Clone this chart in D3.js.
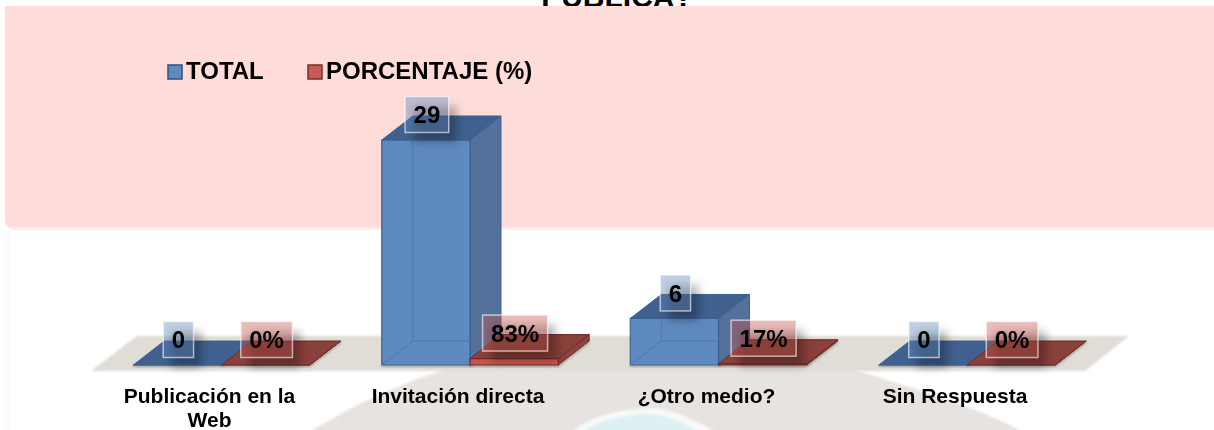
<!DOCTYPE html>
<html>
<head>
<meta charset="utf-8">
<script src="https://cdn.jsdelivr.net/npm/d3@7/dist/d3.min.js"></script>
<style>
  html, body { margin: 0; padding: 0; background: #fff; overflow: hidden; }
  text { font-family: "Liberation Sans", Arial, sans-serif; font-weight: bold; fill: #000; }
</style>
</head>
<body>
<div id="chart"></div>
<script>
var categories = ["Publicación en la Web", "Invitación directa", "¿Otro medio?", "Sin Respuesta"];
var seriesNames = ["TOTAL", "PORCENTAJE (%)"];
var total = [0, 29, 6, 0];
var porcentaje = [0, 0.83, 0.17, 0];
var totalLabels = ["0", "29", "6", "0"];
var porcentajeLabels = ["0%", "83%", "17%", "0%"];

var width = 1214, height = 430;
var depthX = 31, depthY = 24;

var colors = [
  { front: "#5f8abf", top: "#3f6090", side: "#54719b", edge: "#3a6296", inner: "#4a77af", box: "#5f8abf", swatch: "#5f8abf", swatchEdge: "#2f4f7c" },
  { front: "#c9544f", top: "#8a3f3a", side: "#8c423d", edge: "#6e2b28", inner: "#a8443f", box: "#c9544f", swatch: "#c85a56", swatchEdge: "#7a2e2b" }
];

var svg = d3.select("#chart").append("svg")
  .attr("width", width)
  .attr("height", height)
  .style("display", "block");

var defs = svg.append("defs");
defs.append("filter").attr("id", "soft").attr("x", "-50%").attr("y", "-50%").attr("width", "200%").attr("height", "200%")
  .append("feGaussianBlur").attr("stdDeviation", 4);
defs.append("filter").attr("id", "edge").attr("x", "-5%").attr("y", "-5%").attr("width", "110%").attr("height", "110%")
  .append("feGaussianBlur").attr("stdDeviation", 1);
defs.append("filter").attr("id", "tiny").attr("x", "-5%").attr("y", "-20%").attr("width", "110%").attr("height", "140%")
  .append("feGaussianBlur").attr("stdDeviation", 0.4);

// title, cut off by the top of the window and the pink band
svg.append("text")
  .attr("x", 617)
  .attr("y", 6.5)
  .attr("text-anchor", "middle")
  .style("font-size", "30px")
  .text("PUBLICA?");

// faded watermark behind the lower part
var mark = svg.append("g");
mark.append("rect").attr("x", 5).attr("y", 228).attr("width", 5).attr("height", 202).attr("fill", "#fbfbfb").attr("filter", "url(#edge)");
mark.append("path").attr("d", "M310,432 C345,410 395,385 450,368 L850,368 C900,385 975,405 1023,432 Z").attr("fill", "#e6e3e0").attr("filter", "url(#edge)");
mark.append("path").attr("d", "M572,432 C590,415 625,408 655,408 C675,410 695,420 716,432 Z").attr("fill", "#f8f8f8").attr("filter", "url(#edge)");
mark.append("path").attr("d", "M582,432 C598,420 625,414 652,414 C670,416 685,424 700,432 Z").attr("fill", "#def1f2").attr("filter", "url(#edge)");

// pink band
svg.append("path")
  .attr("d", "M5,6 H1240 V230 H14 Q7,229 5,222 Z")
  .attr("fill", "#fedcda");
svg.append("rect")
  .attr("x", 5).attr("y", 227).attr("width", 1214).attr("height", 3)
  .attr("fill", "#fff").attr("fill-opacity", 0.4);

// scales
var x0 = d3.scaleBand().domain(categories).range([97.25, 1091.25]).paddingInner(0.29).paddingOuter(0.145);
var x1 = d3.scaleBand().domain(seriesNames).range([0, x0.bandwidth()]);
var y = d3.scaleLinear().domain([0, 29]).range([365, 140]);

// floor of the 3d chart
var floor = y(0);
svg.append("path")
  .attr("d", "M91," + (floor + 6) + " L137," + (floor - 29) + " L1129," + (floor - 29) + " L1085," + (floor + 6) + " Z")
  .attr("fill", "#e0ddd6")
  .attr("filter", "url(#edge)");

var bars = [];
categories.forEach(function (c, i) {
  bars.push({ cat: c, s: 0, value: total[i], label: totalLabels[i] });
  bars.push({ cat: c, s: 1, value: porcentaje[i], label: porcentajeLabels[i] });
});

// draws one 3d box, all corners come from the scales
function drawBar(g, d) {
  var c = colors[d.s];
  var l = x0(d.cat) + x1(seriesNames[d.s]);
  var r = l + x1.bandwidth();
  var t = y(d.value);
  var b = y(0);

  var back = [[l + depthX, t - depthY], [r + depthX, t - depthY]];
  var topFace = [[l, t], [r, t], back[1], back[0]];
  var sideFace = [[r, t], [r, b], [r + depthX, b - depthY], back[1]];
  var frontFace = [[l, t], [r, t], [r, b], [l, b]];
  var line = d3.line();

  g.append("path").attr("d", line([[l, b + 1], [r, b + 1], [r + depthX, b + 1 - depthY]]))
    .attr("fill", "none").attr("stroke", "#000").attr("stroke-opacity", 0.3).attr("stroke-width", 2).attr("filter", "url(#edge)");

  g.append("path").attr("d", line(sideFace) + "Z").attr("fill", c.side).attr("stroke", c.edge).attr("stroke-width", 1);
  g.append("path").attr("d", line(frontFace) + "Z").attr("fill", c.front).attr("stroke", c.edge).attr("stroke-width", 1.2);
  if (d.value > 1) {
    // back corner seen through the front face
    g.append("path").attr("d", line([[l, b], [l + depthX, b - depthY], [l + depthX, t - depthY]]))
      .attr("fill", "none").attr("stroke", c.inner).attr("stroke-width", 1);
    g.append("path").attr("d", line([[l + depthX, b - depthY], [r, b - depthY]]))
      .attr("fill", "none").attr("stroke", c.inner).attr("stroke-width", 1);
  }
  g.append("path").attr("d", line(topFace) + "Z").attr("fill", c.top).attr("stroke", c.edge).attr("stroke-width", 1);
}

var barLayer = svg.append("g").attr("filter", "url(#tiny)");
bars.forEach(function (d) {
  drawBar(barLayer.append("g"), d);
});

// category labels
var axis = svg.append("g")
  .attr("transform", "translate(-12," + 387 + ")")
  .attr("filter", "url(#tiny)")
  .call(d3.axisBottom(x0).tickSize(0).tickPadding(0));
axis.select(".domain").remove();
axis.selectAll("text")
  .style("font-size", "21px")
  .style("font-family", "'Liberation Sans', Arial, sans-serif")
  .attr("fill", "#000")
  .attr("y", 0)
  .attr("dy", 0)
  .call(wrap, 190);

function wrap(sel, maxWidth) {
  sel.each(function () {
    var text = d3.select(this);
    var words = text.text().split(" ");
    text.text(null);
    var tspan = text.append("tspan").attr("x", 0).attr("y", 16);
    var line = [];
    var row = 0;
    words.forEach(function (w) {
      line.push(w);
      tspan.text(line.join(" "));
      if (tspan.node().getComputedTextLength() > maxWidth) {
        line.pop();
        tspan.text(line.join(" "));
        line = [w];
        row++;
        tspan = text.append("tspan").attr("x", 0).attr("y", 16 + row * 24).text(w);
      }
    });
  });
}

// value boxes with their shadow
var labelLayer = svg.append("g");
bars.forEach(function (d) {
  var cx = x0(d.cat) + x1(seriesNames[d.s]) + x1.bandwidth() / 2 + 1;
  var cy = y(d.value) - depthY - 1.5;
  var g = labelLayer.append("g").attr("transform", "translate(" + cx + "," + cy + ")");
  var text = g.append("text")
    .attr("text-anchor", "middle")
    .attr("dy", "0.36em")
    .attr("filter", "url(#tiny)")
    .style("font-size", "24px")
    .text(d.label);
  var w = text.node().getComputedTextLength() + 17;
  g.insert("rect", "text")
    .attr("x", -w / 2 + 8).attr("y", -18 + 10).attr("width", w).attr("height", 36)
    .attr("fill", "#000").attr("fill-opacity", 0.28).attr("filter", "url(#soft)");
  g.insert("rect", "text")
    .attr("x", -w / 2).attr("y", -18).attr("width", w).attr("height", 36)
    .attr("fill", colors[d.s].box).attr("fill-opacity", 0.4)
    .attr("stroke", "#fff").attr("stroke-opacity", 0.6).attr("stroke-width", 1.5);
});

// legend
var legendX = [167, 307];
var legend = svg.append("g");
seriesNames.forEach(function (name, i) {
  legend.append("rect")
    .attr("x", legendX[i] + 1).attr("y", 65).attr("width", 14).attr("height", 14)
    .attr("fill", colors[i].swatch)
    .attr("stroke", colors[i].swatchEdge).attr("stroke-width", 1.5);
  legend.append("text")
    .attr("x", legendX[i] + 19)
    .attr("y", 79)
    .attr("filter", "url(#tiny)")
    .style("font-size", "24px")
    .text(name);
});
</script>
</body>
</html>
